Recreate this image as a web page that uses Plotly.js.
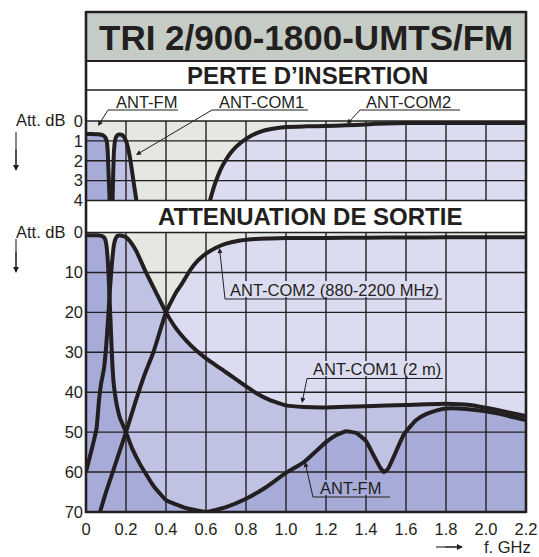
<!DOCTYPE html>
<html><head><meta charset="utf-8">
<script src="https://cdn.plot.ly/plotly-3.0.1.min.js"></script>
<style>html,body{margin:0;padding:0;background:#fff;}#chart{width:539px;height:557px;}</style>
</head><body><div id="chart"></div>
<script>
// ---------- data ----------
const freqTicks = [0, 0.2, 0.4, 0.6, 0.8, 1.0, 1.2, 1.4, 1.6, 1.8, 2.0, 2.2];
const freqLabels = ['0', '0.2', '0.4', '0.6', '0.8', '1.0', '1.2', '1.4', '1.6', '1.8', '2.0', '2.2'];
const insTicks = [0, 1, 2, 3, 4];
const attTicks = [0, 10, 20, 30, 40, 50, 60, 70];

// Perte d'insertion (dB)
const fmInsX = [0, 0.03, 0.06, 0.085, 0.098, 0.105, 0.109, 0.112, 0.115, 0.118];
const fmInsY = [0.65, 0.65, 0.67, 0.72, 0.85, 1.1, 1.6, 2.4, 3.2, 4.0];
const com1InsX = [0.133, 0.136, 0.14, 0.145, 0.153, 0.165, 0.18, 0.19, 0.2, 0.21, 0.22, 0.23, 0.24, 0.252];
const com1InsY = [4.0, 2.6, 1.5, 1.0, 0.75, 0.68, 0.7, 0.8, 1.0, 1.35, 1.85, 2.5, 3.2, 4.0];
const com2InsX = [0.62, 0.64, 0.66, 0.68, 0.7, 0.72, 0.75, 0.8, 0.85, 0.9, 0.95, 1.0, 1.1, 1.2, 1.3, 1.4, 1.5, 1.6, 1.8, 2.0, 2.2];
const com2InsY = [4.0, 3.3, 2.75, 2.3, 1.95, 1.65, 1.3, 0.9, 0.62, 0.45, 0.36, 0.3, 0.27, 0.25, 0.22, 0.17, 0.12, 0.1, 0.1, 0.1, 0.1];

// Attenuation de sortie (dB)
const fmAttX = [0, 0.03, 0.06, 0.08, 0.092, 0.1, 0.105, 0.11, 0.115, 0.12, 0.125, 0.13, 0.137, 0.145, 0.153, 0.17, 0.2, 0.23, 0.27, 0.3, 0.335, 0.4, 0.5, 0.6, 0.7, 0.8, 0.9, 1.0, 1.09, 1.2, 1.25, 1.3, 1.35, 1.4, 1.44, 1.47, 1.49, 1.51, 1.54, 1.59, 1.65, 1.7, 1.75, 1.8, 1.9, 2.0, 2.1, 2.2];
const fmAttY = [0.7, 0.7, 0.7, 0.9, 1.3, 2.5, 4.5, 8, 13, 19, 25, 31, 37, 40.5, 43, 46.5, 50, 54, 58, 60.5, 63.3, 67, 69, 70, 68.8, 66.7, 63.8, 60.2, 57.5, 52.5, 50.8, 49.8, 50.2, 52.2, 56, 58.8, 60, 59.2, 56, 50.5, 47, 45.5, 44.6, 44.1, 44.2, 44.8, 45.8, 47];
const com1AttX = [0, 0.02, 0.04, 0.053, 0.065, 0.075, 0.09, 0.1, 0.11, 0.12, 0.13, 0.14, 0.15, 0.16, 0.18, 0.2, 0.22, 0.25, 0.3, 0.35, 0.4, 0.45, 0.5, 0.55, 0.6, 0.7, 0.77, 0.85, 0.92, 1.0, 1.09, 1.2, 1.4, 1.6, 1.8, 1.92, 2.0, 2.09, 2.2];
const com1AttY = [60, 56, 52, 49, 42, 38, 34, 29, 22, 14, 7.5, 3, 1.3, 0.8, 0.8, 1.2, 2.2, 4.5, 10, 15, 20, 24, 27, 29.5, 31.5, 35, 37.5, 40.2, 42, 43.3, 43.7, 43.8, 43.5, 43.2, 42.9, 43.2, 43.9, 44.8, 46];
const com2AttX = [0.07, 0.1, 0.137, 0.17, 0.2, 0.25, 0.29, 0.337, 0.4, 0.45, 0.48, 0.52, 0.56, 0.6, 0.65, 0.7, 0.77, 0.85, 0.92, 1.0, 1.2, 1.4, 1.6, 1.8, 2.0, 2.2];
const com2AttY = [70, 65, 59.5, 54.5, 50, 42, 36, 30, 20, 15, 12.8, 9.5, 7, 5.3, 3.8, 2.8, 2, 1.6, 1.5, 1.4, 1.35, 1.3, 1.25, 1.2, 1.2, 1.2];

// ---------- styles ----------
const INK = '#231f20';
const PANEL_BG = '#e5e7e3';
const LIGHT = '#dcdcf0', MED = '#bfc2e3', DARK = '#a6abd7';
const TITLE_BG = '#c4ccc5';
const FONT = 'Liberation Sans, Arial, Helvetica, sans-serif';

// pixel geometry of plot area
const L = 86, R = 526, T = 121, B = 512;
const TOP_BOTTOM_PX = 200.5, BOT_TOP_PX = 232.5;
const px = v => (v - L) / (R - L);
const py = v => (B - v) / (B - T);

const insRange = [insTicks[insTicks.length - 1], insTicks[0]];
const attRange = [attTicks[attTicks.length - 1], attTicks[0]];

// ---------- traces ----------
const traces = [];
function addFill(x, y, yaxis, color, floor) {
  traces.push({x: [x[0], x[x.length - 1]], y: [floor, floor], yaxis: yaxis, mode: 'lines',
    line: {width: 0}, hoverinfo: 'skip', showlegend: false});
  traces.push({x: x, y: y, yaxis: yaxis, mode: 'lines', line: {width: 0, shape: 'spline', smoothing: 0.4},
    fill: 'tonexty', fillcolor: color, hoverinfo: 'skip', showlegend: false});
}
function addLine(x, y, yaxis) {
  traces.push({x: x, y: y, yaxis: yaxis, mode: 'lines',
    line: {color: INK, width: 4, shape: 'spline', smoothing: 0.4}, hoverinfo: 'skip', showlegend: false});
}
const insFloor = insRange[0], attFloor = attRange[0];
addFill(com2InsX, com2InsY, 'y', LIGHT, insFloor);
addFill(com1InsX, com1InsY, 'y', MED, insFloor);
addFill(fmInsX, fmInsY, 'y', DARK, insFloor);
addFill(com2AttX, com2AttY, 'y2', LIGHT, attFloor);
addFill(com1AttX, com1AttY, 'y2', MED, attFloor);
addFill(fmAttX, fmAttY, 'y2', DARK, attFloor);
addLine(com2InsX, com2InsY, 'y');
addLine(com1InsX, com1InsY, 'y');
addLine(fmInsX, fmInsY, 'y');
addLine(com2AttX, com2AttY, 'y2');
addLine(com1AttX, com1AttY, 'y2');
addLine(fmAttX, fmAttY, 'y2');

// ---------- shapes ----------
const shapes = [];
shapes.push({type: 'rect', xref: 'paper', yref: 'paper', x0: 0, x1: 1, y0: py(61), y1: py(12),
  fillcolor: TITLE_BG, line: {width: 0}, layer: 'below'});
const gridLine = {color: INK, width: 1.4};
freqTicks.slice(1, -1).forEach(f => {
  shapes.push({type: 'line', xref: 'x', yref: 'y', x0: f, x1: f, y0: insRange[0], y1: insRange[1], line: gridLine, layer: 'above'});
  shapes.push({type: 'line', xref: 'x', yref: 'y2', x0: f, x1: f, y0: attRange[0], y1: attRange[1], line: gridLine, layer: 'above'});
});
insTicks.slice(1, -1).forEach(v => shapes.push({type: 'line', xref: 'paper', yref: 'y', x0: 0, x1: 1, y0: v, y1: v, line: gridLine, layer: 'above'}));
attTicks.slice(1, -1).forEach(v => shapes.push({type: 'line', xref: 'paper', yref: 'y2', x0: 0, x1: 1, y0: v, y1: v, line: gridLine, layer: 'above'}));
function knock(x0, x1, y0, y1, c) {
  shapes.push({type: 'rect', xref: 'paper', yref: 'paper', x0: px(x0), x1: px(x1), y0: py(y1), y1: py(y0),
    fillcolor: c, line: {width: 0}, layer: 'above'});
}
knock(226, 443, 281, 297, LIGHT);
knock(309, 444, 361, 376, LIGHT);
knock(318, 384, 480, 495, DARK);
function hline(y, w, x0 = L, x1 = R) {
  shapes.push({type: 'line', xref: 'paper', yref: 'paper', x0: px(x0), x1: px(x1), y0: py(y), y1: py(y), line: {color: INK, width: w}, layer: 'above'});
}
function vline(x, y0, y1, w) {
  shapes.push({type: 'line', xref: 'paper', yref: 'paper', x0: px(x), x1: px(x), y0: py(y0), y1: py(y1), line: {color: INK, width: w}, layer: 'above'});
}
hline(12, 2.5); hline(61, 2); hline(90, 1.5); hline(T, 1.3); hline(TOP_BOTTOM_PX, 1.6); hline(BOT_TOP_PX, 1.3); hline(B, 2.6);
vline(L, 11, 513, 2.6); vline(R, 11, 513, 2.6);
// shafts of the axis arrows
vline(16, 132, 166, 1.1);
vline(16, 239, 268, 1.1);
hline(547, 1.1, 436, 458);
function uline(x0, x1, y) {
  shapes.push({type: 'line', xref: 'paper', yref: 'paper', x0: px(x0), x1: px(x1), y0: py(y), y1: py(y), line: {color: INK, width: 1}, layer: 'above'});
}
uline(108, 178, 110);
uline(212, 308, 110);
uline(360, 460, 110);
uline(225, 442, 299);
uline(307, 443, 378.5);
uline(313, 390, 497);

// ---------- annotations ----------
const ann = [];
function txt(text, x, y, size, bold, xanchor = 'center') {
  ann.push({text: text, xref: 'paper', yref: 'paper', x: px(x), y: py(y), xanchor: xanchor, yanchor: 'middle',
    showarrow: false, font: {family: FONT, size: size, color: INK, weight: bold ? 'bold' : 'normal'}});
}
function arrow(hx, hy, tx, ty, head = 2, size = 1, w = 1) {
  ann.push({text: '', xref: 'paper', yref: 'paper', x: px(hx), y: py(hy), ax: tx - hx, ay: ty - hy,
    showarrow: true, arrowhead: head, arrowsize: size, arrowwidth: w, arrowcolor: INK, standoff: 0,
    font: {size: 1}, borderpad: 0, borderwidth: 0});
}
txt('TRI 2/900-1800-UMTS/FM', 306, 37, 35, true);
txt('PERTE D\u2019INSERTION', 307, 76, 24, true);
txt('ATTENUATION DE SORTIE', 310, 216, 24, true);
txt('ANT-FM', 146, 102, 16.5, false);
txt('ANT-COM1', 261, 102, 16.5, false);
txt('ANT-COM2', 408, 102, 16.5, false);
txt('ANT-COM2 (880-2200 MHz)', 334.5, 290, 16.5, false);
txt('ANT-COM1 (2 m)', 377, 369, 16.5, false);
txt('ANT-FM', 350, 488, 16.5, false);
txt('Att. dB', 14, 120, 16.5, false, 'left');
txt('Att. dB', 14, 231.5, 16.5, false, 'left');
txt('f. GHz', 482, 547, 16.5, false, 'left');
arrow(98, 126, 108, 110);
arrow(136, 155, 212, 110);
arrow(347, 124, 360, 110);
arrow(219.5, 248, 225, 299);
arrow(302, 403, 307, 378.5);
arrow(305, 462, 313, 497);
arrow(16, 171, 16, 150, 2, 1.1, 1.1);
arrow(16, 273, 16, 252, 2, 1.1, 1.1);
arrow(463, 547, 445, 547, 2, 1.1, 1.1);

const layout = {
  width: 539, height: 557,
  margin: {l: L, r: 539 - R, t: T, b: 557 - B},
  paper_bgcolor: '#ffffff', plot_bgcolor: PANEL_BG,
  showlegend: false,
  font: {family: FONT, size: 16.5, color: INK},
  xaxis: {range: [freqTicks[0], freqTicks[freqTicks.length - 1]], anchor: 'y2', tickmode: 'array',
    tickvals: freqTicks, ticktext: freqLabels, showgrid: false, zeroline: false, showline: false,
    ticks: '', ticklabelstandoff: 5, fixedrange: true, tickfont: {size: 16.5, color: INK}},
  yaxis: {domain: [py(TOP_BOTTOM_PX), 1], range: insRange, anchor: 'x', tickmode: 'array', tickvals: insTicks,
    showgrid: false, zeroline: false, showline: false, ticks: '', ticklabelstandoff: 2, fixedrange: true, tickfont: {size: 16.5, color: INK}},
  yaxis2: {domain: [0, py(BOT_TOP_PX)], range: attRange, anchor: 'x', tickmode: 'array', tickvals: attTicks,
    showgrid: false, zeroline: false, showline: false, ticks: '', ticklabelstandoff: 2, fixedrange: true, tickfont: {size: 16.5, color: INK}},
  shapes: shapes,
  annotations: ann
};
Plotly.newPlot('chart', traces, layout, {displayModeBar: false, staticPlot: true});
</script></body></html>
